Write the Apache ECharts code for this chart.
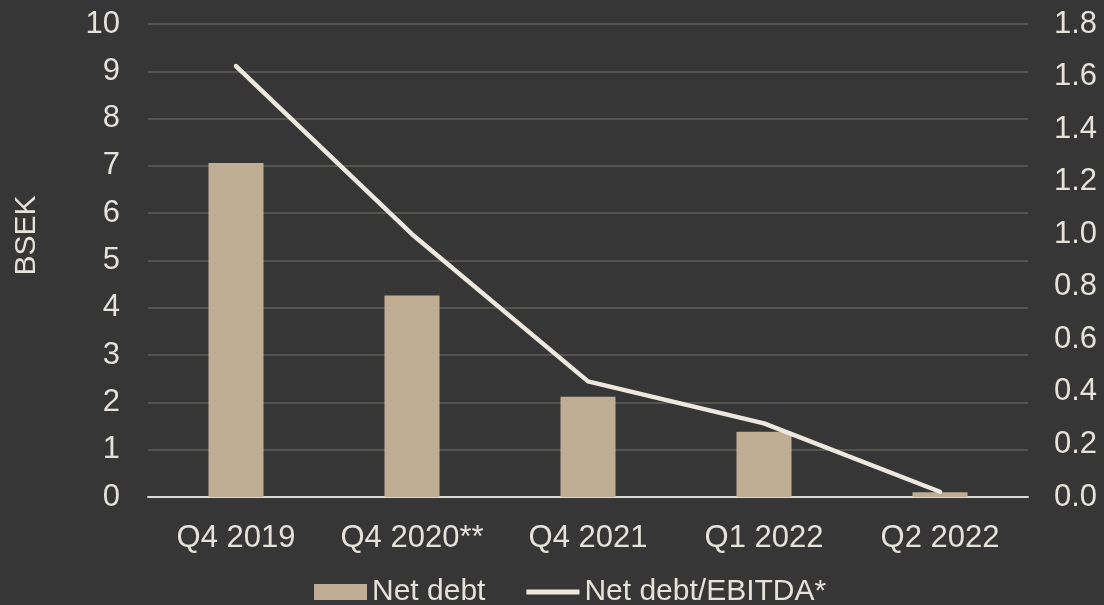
<!DOCTYPE html>
<html><head><meta charset="utf-8">
<script src="https://cdn.jsdelivr.net/npm/echarts@6/dist/echarts.min.js"></script>
<style>html,body{margin:0;padding:0;background:#363636;}#c{width:1104px;height:605px;}</style>
</head><body><div id="c"></div>
<script>
const categories = ["Q4 2019", "Q4 2020**", "Q4 2021", "Q1 2022", "Q2 2022"];
const netDebt = [7.06, 4.26, 2.12, 1.38, 0.1];
const netDebtEbitda = [1.64, 1.0, 0.44, 0.28, 0.02];
const leftTicks = [0, 10, 1];
const rightTicks = [0, 1.8, 0.2];
const txt = '#e6e2da';
const font = '"Liberation Sans", Arial, sans-serif';
const chart = echarts.init(document.getElementById('c'));
chart.setOption({
  backgroundColor: '#363636',
  animation: false,
  textStyle: {fontFamily: font},
  grid: {left: 148, right: 76, top: 24, bottom: 108},
  legend: {
    top: 577, left: 314, itemGap: 41, padding: 0,
    textStyle: {color: txt, fontSize: 30, fontFamily: font},
    data: [
      {name: 'Net debt', icon: 'rect', itemStyle: {color: '#bfae94'}},
      {name: 'Net debt/EBITDA*', icon: 'path://M0,0 L54,0 L54,5 L0,5 Z'}
    ],
    itemWidth: 53, itemHeight: 16
  },
  xAxis: {
    type: 'category', data: categories,
    axisLine: {lineStyle: {color: '#d9d9d9', width: 2}},
    axisTick: {show: false},
    axisLabel: {color: txt, fontSize: 31, margin: 26, fontFamily: font, interval: 0}
  },
  yAxis: [
    {type: 'value', min: leftTicks[0], max: leftTicks[1], interval: leftTicks[2],
     name: 'BSEK', nameLocation: 'middle', nameGap: 106, nameRotate: 90,
     nameTextStyle: {color: txt, fontSize: 30, fontFamily: font, padding: [0, 0, 0, 50]},
     axisLabel: {color: txt, fontSize: 31, margin: 28, fontFamily: font},
     splitLine: {lineStyle: {color: '#56544f', width: 2}},
     axisLine: {show: false}, axisTick: {show: false}},
    {type: 'value', min: rightTicks[0], max: rightTicks[1], interval: rightTicks[2],
     axisLabel: {color: txt, fontSize: 31, margin: 26, fontFamily: font,
       formatter: v => v.toFixed(1)},
     splitLine: {show: false}, axisLine: {show: false}, axisTick: {show: false}}
  ],
  series: [
    {name: 'Net debt', type: 'bar', data: netDebt, barWidth: 55, itemStyle: {color: '#bfae94'}},
    {name: 'Net debt/EBITDA*', type: 'line', yAxisIndex: 1, data: netDebtEbitda,
     symbol: 'none', lineStyle: {color: '#ede8df', width: 4.5, cap: 'round', join: 'round'},
     itemStyle: {color: '#ede8df'}}
  ]
});
</script></body></html>
